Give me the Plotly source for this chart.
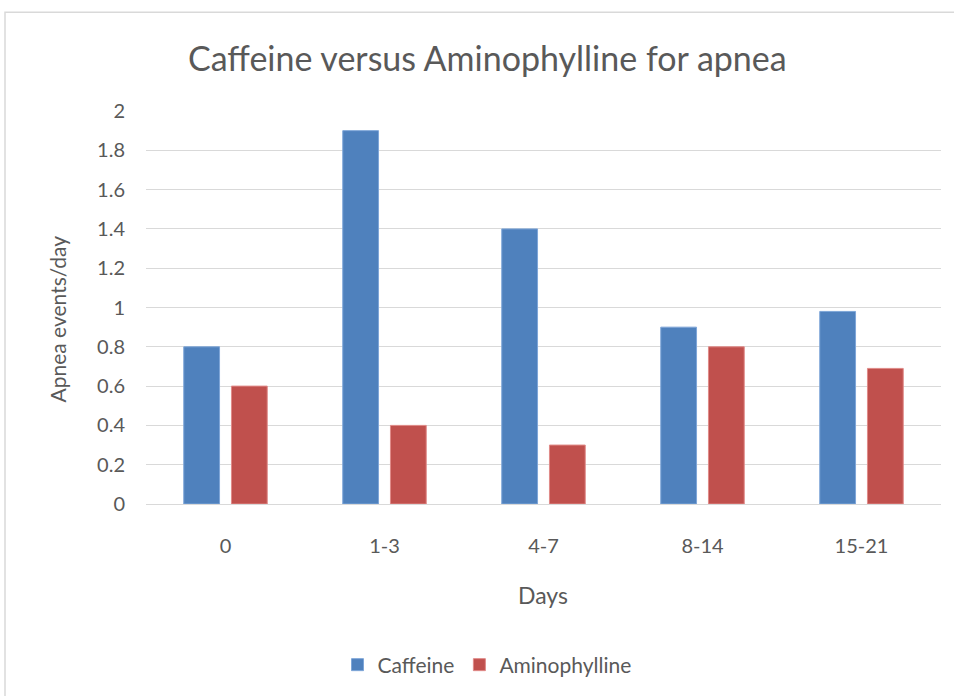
import plotly.graph_objects as go

categories = ["0", "1-3", "4-7", "8-14", "15-21"]
caffeine = [0.8, 1.9, 1.4, 0.9, 0.98]
aminophylline = [0.6, 0.4, 0.3, 0.8, 0.69]
y_ticks = [0, 0.2, 0.4, 0.6, 0.8, 1, 1.2, 1.4, 1.6, 1.8, 2]
y_tick_labels = ["0", "0.2", "0.4", "0.6", "0.8", "1", "1.2", "1.4", "1.6", "1.8", "2"]

W, H = 954, 696
L, R, T, B = 146, 13, 111, 191
pw, ph = W - L - R, H - T - B

def px(x):
    return (x - L) / pw

def py(y):
    return (H - B - y) / ph

font = "Lato, Calibri, Carlito, sans-serif"
gray = "#595959"

fig = go.Figure()
fig.add_trace(go.Bar(x=categories, y=caffeine, name="Caffeine",
                     marker=dict(color="#4f81bd", line=dict(color="#7ea6d8", width=1))))
fig.add_trace(go.Bar(x=categories, y=aminophylline, name="Aminophylline",
                     marker=dict(color="#c0504d", line=dict(color="#e08a88", width=1))))

fig.update_layout(
    width=W, height=H,
    margin=dict(l=L, r=R, t=T, b=B),
    paper_bgcolor="white", plot_bgcolor="white",
    barmode="group", bargap=0.40, bargroupgap=0.25,
    font=dict(family=font, color=gray, size=20),
    showlegend=True,
    legend=dict(orientation="h", x=px(487), xanchor="center", y=py(665), yanchor="middle",
                font=dict(size=21, color=gray), itemwidth=30, traceorder="normal"),
    xaxis=dict(showgrid=False, showline=False, ticks="", ticklabelstandoff=28,
               tickfont=dict(size=20, color=gray)),
    yaxis=dict(range=[0, 2], tickvals=y_ticks, ticktext=y_tick_labels,
               showgrid=True, gridcolor="#d9d9d9", gridwidth=1,
               zeroline=True, zerolinecolor="#d9d9d9", zerolinewidth=1,
               showline=False, ticks="", ticklabelstandoff=20,
               tickfont=dict(size=20, color=gray)),
    annotations=[
        dict(text="Caffeine versus Aminophylline for apnea", xref="paper", yref="paper",
             x=px(487), y=py(57), xanchor="center", yanchor="middle", showarrow=False,
             font=dict(size=34, color=gray, family=font)),
        dict(text="Days", xref="paper", yref="paper", x=px(543), y=py(596),
             xanchor="center", yanchor="middle", showarrow=False,
             font=dict(size=23, color=gray, family=font)),
        dict(text="Apnea events/day", xref="paper", yref="paper", x=px(57), y=py(320),
             xanchor="center", yanchor="middle", showarrow=False, textangle=-90,
             font=dict(size=21, color=gray, family=font)),
    ],
    shapes=[
        dict(type="rect", xref="paper", yref="paper", x0=px(5), x1=px(975), y0=py(715), y1=py(12),
             line=dict(color="#d9d9d9", width=1.5), fillcolor="rgba(0,0,0,0)", layer="below"),
    ],
)

fig.write_html("out.html", config={"displayModeBar": False},
               post_script="document.body.style.margin='0';")
